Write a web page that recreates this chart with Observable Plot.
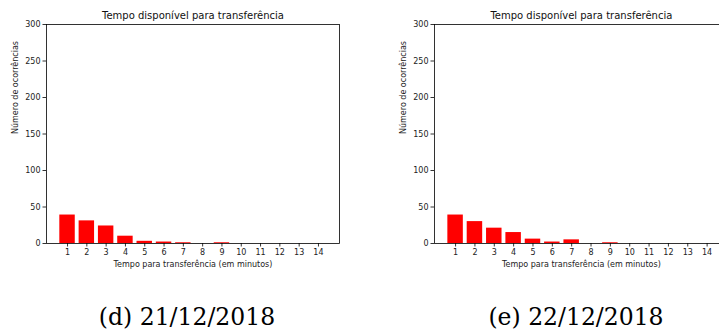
<!DOCTYPE html>
<html>
<head>
<meta charset="utf-8">
<script src="https://cdn.jsdelivr.net/npm/d3@7"></script>
<script src="https://cdn.jsdelivr.net/npm/@observablehq/plot@0.6"></script>
<style>
  html, body { margin: 0; padding: 0; background: #fff; }
  #wrap { position: relative; width: 719px; height: 333px; overflow: hidden; background: #fff; }
  .panel { position: absolute; top: 0; }
  .panel svg { max-width: none !important; display: block; }
  .cap { position: absolute; font-family: "DejaVu Serif", "Liberation Serif", serif; font-size: 23.5px; color: #000; white-space: nowrap; transform: translateX(-50%); line-height: 1; }
</style>
</head>
<body>
<div id="wrap">
  <div class="panel" id="p1" style="left:0px; width:360px;"></div>
  <div class="panel" id="p2" style="left:360px; width:400px;"></div>
  <div class="cap" id="c1" style="left:187px; top:306px;"></div>
  <div class="cap" id="c2" style="left:576px; top:306px;"></div>
</div>
<script>
// Data
const minutes = [1, 2, 3, 4, 5, 6, 7, 8, 9, 10, 11, 12, 13, 14];
const countsD = [39, 31, 24, 10, 3, 2, 1, 0, 1, 0, 0, 0, 0, 0];
const countsE = [39, 30, 21, 15, 6, 2, 5, 0, 1, 0, 0, 0, 0, 0];
const yTicks = [0, 50, 100, 150, 200, 250, 300];
const title = "Tempo disponível para transferência";
const xLabel = "Tempo para transferência (em minutos)";
const yLabel = "Número de ocorrências";
const captions = ["(d) 21/12/2018", "(e) 22/12/2018"];

function chart(counts, width, marginLeft, marginRight) {
  const data = minutes.map((t, i) => ({t, v: counts[i]}));
  const font = "DejaVu Sans, sans-serif";
  return Plot.plot({
    width, height: 280,
    marginLeft, marginRight, marginTop: 24, marginBottom: 37,
    style: {fontFamily: font, background: "transparent", color: "#000", overflow: "visible"},
    x: {domain: [-0.09, 15.09], axis: null},
    y: {domain: [0, 300], axis: null},
    marks: [
      Plot.rectY(data, {x1: d => d.t - 0.4, x2: d => d.t + 0.4, y: "v", fill: "#ff0000"}),
      Plot.frame({stroke: "#000", strokeWidth: 0.8}),
      Plot.axisY(yTicks, {tickSize: 3.5, tickPadding: 2.5, fontSize: 8, label: null, stroke: "#000", strokeWidth: 0.8, fill: "#222", tickFormat: d => String(d)}),
      Plot.axisX(minutes, {tickSize: 3.5, tickPadding: 2, fontSize: 8, label: null, stroke: "#000", strokeWidth: 0.8, fill: "#222", tickFormat: d => String(d)}),
      Plot.text([title], {frameAnchor: "top", lineAnchor: "middle", dy: -9, fontSize: 10, fill: "#111"}),
      Plot.text([xLabel], {frameAnchor: "bottom", lineAnchor: "middle", dy: 21, fontSize: 8, fill: "#222"}),
      Plot.text([yLabel], {frameAnchor: "left", lineAnchor: "middle", rotate: -90, dx: -31, fontSize: 8, fill: "#222"})
    ]
  });
}

document.getElementById("p1").appendChild(chart(countsD, 360, 46, 21));
document.getElementById("p2").appendChild(chart(countsE, 400, 74, 32.3));
document.getElementById("c1").textContent = captions[0];
document.getElementById("c2").textContent = captions[1];
</script>
</body>
</html>
